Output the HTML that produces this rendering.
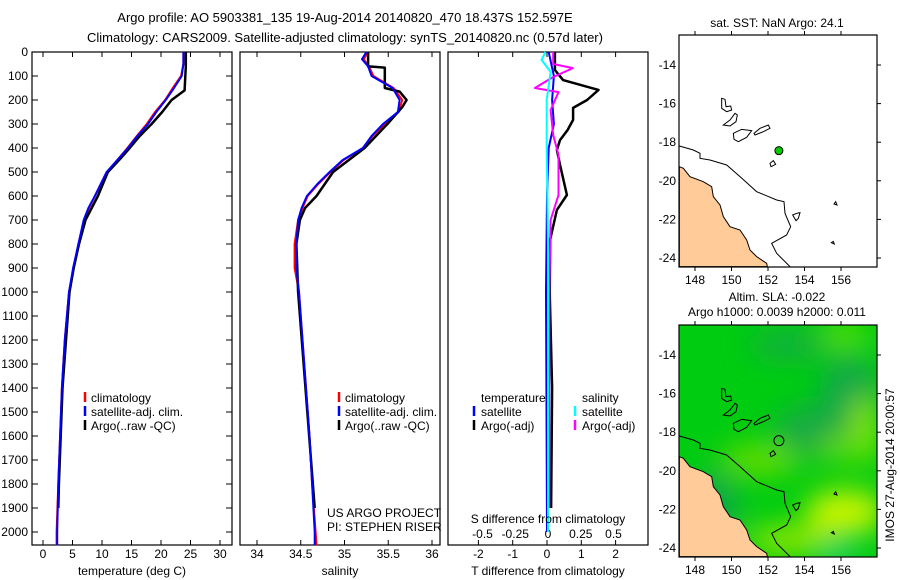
<!DOCTYPE html>
<html><head><meta charset="utf-8">
<style>
html,body{margin:0;padding:0;background:#fff;}
svg{display:block;font-family:"Liberation Sans",sans-serif;}
text{font-size:12px;fill:#000;}
</style></head>
<body>
<svg id="fig" width="900" height="580" viewBox="0 0 900 580" xmlns="http://www.w3.org/2000/svg">
<defs>
<filter id="bl" x="-50%" y="-50%" width="200%" height="200%"><feGaussianBlur stdDeviation="14"/></filter>
<clipPath id="m2clip"><rect x="679" y="325" width="198" height="232"/></clipPath>
</defs>
<text x="345" y="22" text-anchor="middle" style="font-size:13px">Argo profile: AO 5903381_135 19-Aug-2014 20140820_470 18.437S 152.597E</text>
<text x="345" y="42" text-anchor="middle" style="font-size:13px">Climatology: CARS2009. Satellite-adjusted climatology: synTS_20140820.nc (0.57d later)</text>
<g id="panels"></g>
<g id="maps"></g>
</svg>
<script>
// ---- data ----
const depthTicks=[0,100,200,300,400,500,600,700,800,900,1000,1100,1200,1300,1400,1500,1600,1700,1800,1900,2000];
const tempTicks=[0,5,10,15,20,25,30];
const salTicks=[34,34.5,35,35.5,36];
const tdiffTicks=[-2,-1,0,1,2];
const sdiffTicks=[-0.5,-0.25,0,0.25,0.5];
const tempDepths=[0,50,100,150,200,250,300,350,400,450,500,550,600,650,700,800,900,1000,1200,1400,1600,1800,2000,2055];
const tempSat=[23.8,23.8,23.5,22.2,20.8,19.2,17.8,16.0,14.4,12.6,10.8,9.8,8.8,7.7,6.9,6.0,5.1,4.4,3.7,3.2,2.9,2.6,2.4,2.4];
const tempClim=[23.8,23.8,23.4,22.0,20.7,19.0,17.6,15.9,14.3,12.6,10.8,9.8,8.8,7.8,7.0,6.0,5.2,4.4,3.7,3.2,2.9,2.6,2.3,2.3];
const argoDepths=[0,60,160,200,250,300,350,400,450,500,600,700,800,900,1000,1400,1800,1900];
const tempArgo=[24.2,24.2,24.0,21.8,20.2,18.4,16.4,14.7,12.9,11.0,9.3,7.2,6.1,5.2,4.5,3.3,2.7,2.6];
const salDepths=[0,30,60,100,150,200,250,300,350,400,450,500,550,600,650,700,800,900,1000,1400,1600,1800,2000,2055];
const salSat=[35.25,35.2,35.27,35.31,35.55,35.63,35.61,35.44,35.31,35.21,34.98,34.83,34.69,34.57,34.51,34.47,34.45,34.45,34.48,34.56,34.6,34.63,34.66,34.66];
const salClim=[35.27,35.22,35.28,35.33,35.56,35.66,35.62,35.46,35.32,35.21,34.99,34.84,34.70,34.58,34.52,34.47,34.43,34.43,34.48,34.56,34.6,34.63,34.67,34.68];
const salArgoDepths=[0,60,65,150,165,200,230,300,400,500,600,650,700,800,1000,1900];
const salArgo=[35.27,35.27,35.46,35.46,35.63,35.71,35.66,35.49,35.23,34.87,34.68,34.55,34.49,34.45,34.47,34.66];
const tdDepths=[0,75,117,158,200,233,283,325,367,408,470,596,658,783,1000,1400,1900];
const tdArgo=[0.23,0.23,0.47,1.5,1.17,0.76,0.76,0.6,0.38,0.29,0.38,0.58,0.29,0.09,0.08,0.15,0.12];
const tdSatDepths=[0,100,200,300,400,600,1000,2000];
const tdSat=[0.05,0.2,0.15,0.2,0.05,0.0,-0.03,0.0];
const sdDepths=[0,50,67,104,150,167,242,346,429,596,700,1000,1900];
const sdArgo=[0.04,0.04,0.19,0.04,-0.1,0.08,0.02,0.04,0.08,0.08,0.02,0.01,0.01];
const sdSatDepths=[0,33,83,200,400,800,2000];
const sdSat=[-0.02,-0.05,0.02,-0.01,-0.01,0.0,0.0];
const mapLonTicks=[148,150,152,154,156];
const mapLatTicks=[14,16,18,20,22,24];
const argoLon=152.597, argoLat=18.437;

const NS="http://www.w3.org/2000/svg";
function mk(tag,attrs,parent){const e=document.createElementNS(NS,tag);for(const k in attrs)e.setAttribute(k,attrs[k]);parent.appendChild(e);return e;}
const P=document.getElementById('panels');
const TOP=52,BOT=545;
const yD=d=>TOP+d*0.24;
const xT=v=>43+v*5.9;
const xS=v=>257+(v-34)*87.5;
const xTD=v=>547+v*34.3;
const xSD=v=>548+v*131;

function box(x0,x1,name){
  const r=mk('rect',{x:x0,y:TOP,width:x1-x0,height:BOT-TOP,fill:'none',stroke:'#000','stroke-width':1.2},P);
  
  
}
function line(xs,ds,xf,color,w,name){
  const pts=xs.map((v,i)=>xf(v).toFixed(1)+','+yD(ds[i]).toFixed(1)).join(' ');
  const l=mk('polyline',{points:pts,fill:'none',stroke:color,'stroke-width':w,'stroke-linejoin':'round'},P);
  
  
}
function xticks(ticks,xf,y,fmt,name){
  ticks.forEach(t=>{
    mk('line',{x1:xf(t),x2:xf(t),y1:BOT,y2:BOT-5,stroke:'#000'},P);
    mk('line',{x1:xf(t),x2:xf(t),y1:TOP,y2:TOP+5,stroke:'#000'},P);
    const tx=mk('text',{x:xf(t),y:y,'text-anchor':'middle'},P);tx.textContent=fmt(t);
    
    
  });
}
function txt(x,y,s,name,anchor){
  const t=mk('text',{x:x,y:y,'text-anchor':anchor||'start'},P);t.textContent=s;
  
  
  return t;
}
function legMark(x,y,color,name){
  const l=mk('line',{x1:x,x2:x,y1:y-10,y2:y,stroke:color,'stroke-width':2.5},P);
  
  
}

// panel 1
box(32,232,'temperature-panel');
depthTicks.forEach(d=>{
  mk('line',{x1:32,x2:38,y1:yD(d),y2:yD(d),stroke:'#000'},P);
  mk('line',{x1:232,x2:226,y1:yD(d),y2:yD(d),stroke:'#000'},P);
  txt(28,yD(d)+4,String(d),'depth-tick-label','end');
});
xticks(tempTicks,xT,558,String,'temperature-tick-label');
line(tempClim,tempDepths,xT,'#ff0000',2,'temperature-climatology-line');
line(tempArgo,argoDepths,xT,'#000000',2.5,'temperature-argo-line');
line(tempSat,tempDepths,xT,'#0000ff',2,'temperature-satellite-line');
txt(132,575,'temperature (deg C)','temperature-axis-title','middle');
legMark(85,402,'#ff0000','legend-climatology-marker');txt(91,402,'climatology','legend-climatology');
legMark(85,416,'#0000ff','legend-satellite-marker');txt(91,416,'satellite-adj. clim.','legend-satellite');
legMark(85,430,'#000000','legend-argo-marker');txt(91,430,'Argo(..raw -QC)','legend-argo');

// panel 2
box(240,440,'salinity-panel');
xticks(salTicks,xS,558,String,'salinity-tick-label');
line(salClim,salDepths,xS,'#ff0000',2,'salinity-climatology-line');
line(salArgo,salArgoDepths,xS,'#000000',2.5,'salinity-argo-line');
line(salSat,salDepths,xS,'#0000ff',2,'salinity-satellite-line');
txt(340,575,'salinity','salinity-axis-title','middle');
legMark(339,402,'#ff0000','legend-climatology-marker-2');txt(345,402,'climatology','legend-climatology-2');
legMark(339,416,'#0000ff','legend-satellite-marker-2');txt(345,416,'satellite-adj. clim.','legend-satellite-2');
legMark(339,430,'#000000','legend-argo-marker-2');txt(345,430,'Argo(..raw -QC)','legend-argo-2');
txt(327,517,'US ARGO PROJECT','project-label');
txt(327,531,'PI: STEPHEN RISER','pi-label');

// panel 3
box(448,648,'difference-panel');
xticks(tdiffTicks,xTD,558,String,'tdiff-tick-label');
sdiffTicks.forEach(t=>{txt(xSD(t),538,String(t),'sdiff-tick-label','middle');});
line(tdSat,tdSatDepths,xTD,'#0000ff',2,'tdiff-satellite-line');
line(tdArgo,tdDepths,xTD,'#000000',2.5,'tdiff-argo-line');
line(sdArgo,sdDepths,xSD,'#ff00ff',2,'sdiff-argo-line');
line(sdSat,sdSatDepths,xSD,'#00ffff',2,'sdiff-satellite-line');
txt(548,575,'T difference from climatology','tdiff-axis-title','middle');
txt(548,523,'S difference from climatology','sdiff-axis-title','middle');
txt(481,402,'temperature','legend-temperature-header');
txt(582,402,'salinity','legend-salinity-header');
legMark(474,416,'#0000ff','legend-tsat-marker');txt(481,416,'satellite','legend-tsat');
legMark(474,430,'#000000','legend-targo-marker');txt(481,430,'Argo(-adj)','legend-targo');
legMark(575,416,'#00ffff','legend-ssat-marker');txt(582,416,'satellite','legend-ssat');
legMark(575,430,'#ff00ff','legend-sargo-marker');txt(582,430,'Argo(-adj)','legend-sargo');

// ---- maps ----
const M=document.getElementById('maps');
const xL=lon=>695+(lon-148)*18.25;
const yL=(lat,off)=>off+65+(lat-14)*19.3;
const land="M58,500 L70,505 L90,530 L130,545 L155,560 L160,590 L180,615 L190,650 L210,680 L240,690 L260,720 L270,750 L290,770 L320,790 L322,800 L58,800 Z";
const shelf="M58,438 L100,450 L120,460 L120,475 L150,480 L200,495 L240,530 L290,575 L350,600 L372,605 L375,640 L392,680 L380,705 L335,730 L350,760 L390,800";
const reefs=["M185,295 L195,298 L198,320 L212,318 L215,330 L200,335 L185,325 Z","M190,375 L210,360 L225,340 L232,345 L228,365 L210,378 Z","M220,400 L245,388 L275,392 L260,412 L235,425 L222,418 Z","M282,400 L300,385 L325,375 L330,385 L310,395 L285,405 Z","M330,490 L340,482 L347,493 L333,500 Z","M398,645 L410,640 L420,638 L415,655 L408,662 Z","M522,612 L527,605 L531,615 Z","M514,728 L520,724 L523,732 Z"];
function map(off,name,sla){
  const g=mk('g',{},M);
  
  
  if(sla){
    const bg=mk('g',{'clip-path':'url(#m2clip)'},g);
    mk('rect',{x:679,y:325,width:198,height:232,fill:'#00cc11'},bg);
    const b=mk('g',{filter:'url(#bl)'},bg);
    mk('ellipse',{cx:850,cy:395,rx:30,ry:40,fill:'#10a848'},b);
    mk('ellipse',{cx:790,cy:345,rx:40,ry:15,fill:'#14ad40'},b);
    mk('ellipse',{cx:810,cy:430,rx:35,ry:25,fill:'#12aa44'},b);
    mk('ellipse',{cx:865,cy:430,rx:14,ry:35,fill:'#88e400'},b);
    mk('ellipse',{cx:760,cy:460,rx:40,ry:16,fill:'#66dd00'},b);
    mk('ellipse',{cx:835,cy:450,rx:12,ry:14,fill:'#77e000'},b);
    mk('ellipse',{cx:845,cy:512,rx:40,ry:22,fill:'#ccf500'},b);
    mk('ellipse',{cx:790,cy:540,rx:45,ry:14,fill:'#99e800'},b);
    mk('ellipse',{cx:840,cy:556,rx:14,ry:8,fill:'#00ccaa'},b);
    mk('ellipse',{cx:715,cy:510,rx:22,ry:40,fill:'#10a848'},b);
    mk('ellipse',{cx:845,cy:335,rx:25,ry:15,fill:'#55dd00'},b);
  }
  const t=mk('g',{transform:`translate(660,${off}) scale(0.33333)`},g);
  mk('path',{d:land,fill:'#ffcc99',stroke:'#000','stroke-width':3},t);
  mk('path',{d:shelf,fill:'none',stroke:'#000','stroke-width':3},t);
  reefs.forEach(r=>mk('path',{d:r,fill:'none',stroke:'#000','stroke-width':3},t));
  mk('rect',{x:679,y:35+off,width:198,height:232,fill:'none',stroke:'#000','stroke-width':1.2},g);
  mapLonTicks.forEach(l=>{
    mk('line',{x1:xL(l),x2:xL(l),y1:35+off,y2:31+off,stroke:'#000'},g);
    mk('line',{x1:xL(l),x2:xL(l),y1:267+off,y2:271+off,stroke:'#000'},g);
    const tx=mk('text',{x:xL(l),y:284+off,'text-anchor':'middle'},g);tx.textContent=String(l);
    
    
  });
  mapLatTicks.forEach(l=>{
    mk('line',{x1:877,x2:881,y1:yL(l,off),y2:yL(l,off),stroke:'#000'},g);
    const tx=mk('text',{x:676,y:yL(l,off)+4,'text-anchor':'end'},g);tx.textContent='-'+l;
    
    
  });
  const c=mk('circle',{cx:xL(argoLon),cy:yL(argoLat,off),r:sla?5:4,fill:sla?'none':'#00cc00',stroke:'#000','stroke-width':1},g);
  
  
}
map(0,'sst-map',false);
map(290,'sla-map',true);
function mt(x,y,s,name){const t=mk('text',{x:x,y:y,'text-anchor':'middle'},M);t.textContent=s;
  
  return t;}
mt(777,27,'sat. SST: NaN Argo: 24.1','sst-map-title');
mt(777,301,'Altim. SLA: -0.022','sla-map-title');
mt(777,316,'Argo h1000: 0.0039 h2000: 0.011','sla-map-subtitle');
const im=mk('text',{x:0,y:0,'text-anchor':'middle',transform:'translate(894,465) rotate(-90)'},M);
im.textContent='IMOS 27-Aug-2014 20:00:57';


</script>
</body></html>
